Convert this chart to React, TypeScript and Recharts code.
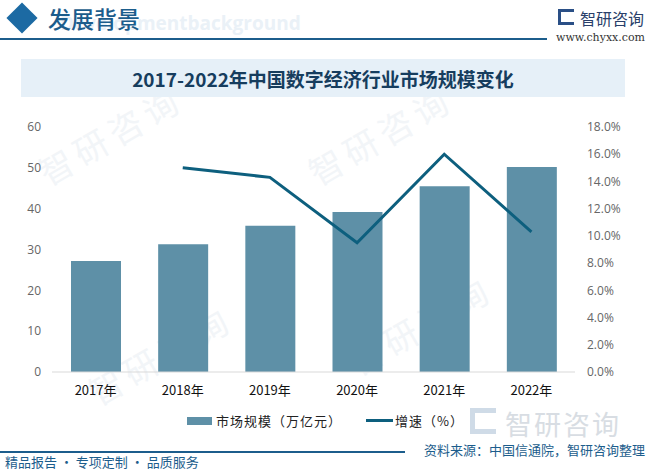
import React from "react";
import {
  ComposedChart,
  Bar,
  Line,
  XAxis,
  YAxis,
  Legend,
} from "recharts";

const YEARS = ["2017年", "2018年", "2019年", "2020年", "2021年", "2022年"];
const SCALE = [27.2, 31.3, 35.8, 39.2, 45.5, 50.2];
const GROWTH = [null, 15.0, 14.3, 9.5, 16.0, 10.3];
const LEFT_TICKS = [0, 10, 20, 30, 40, 50, 60];
const RIGHT_TICKS = [0, 2, 4, 6, 8, 10, 12, 14, 16, 18];

const BAR_COLOR = "#5e90a7";
const LINE_COLOR = "#0d5f7e";
const BLUE = "#1c5d8c";
const FONT = "'Noto Sans CJK SC', 'Open Sans', sans-serif";

const data = YEARS.map((year, i) => ({
  year,
  scale: SCALE[i],
  growth: GROWTH[i],
}));

const WATERMARKS = [
  { x: 30, y: 110 },
  { x: 300, y: 110 },
  { x: 80, y: 330 },
  { x: 340, y: 300 },
];

function LegendContent() {
  return (
    <div
      style={{
        display: "flex",
        justifyContent: "center",
        alignItems: "center",
        fontFamily: FONT,
        fontSize: 13,
        color: "#222",
        letterSpacing: 1,
      }}
    >
      <span
        style={{ width: 25, height: 8, background: BAR_COLOR, display: "inline-block", marginRight: 4 }}
      />
      <span>市场规模（万亿元）</span>
      <span
        style={{ width: 27, height: 3, background: LINE_COLOR, display: "inline-block", marginLeft: 24, marginRight: 2 }}
      />
      <span>增速（%）</span>
    </div>
  );
}

export default function App() {
  return (
    <div
      style={{
        position: "absolute",
        left: 0,
        top: 0,
        width: 651,
        height: 471,
        background: "#fff",
        overflow: "hidden",
        fontFamily: FONT,
      }}
    >
      {/* faint watermarks */}
      {WATERMARKS.map((w, i) => (
        <div
          key={i}
          style={{
            position: "absolute",
            left: w.x,
            top: w.y,
            transform: "rotate(-30deg)",
            fontSize: 34,
            color: "#f2f5f8",
            whiteSpace: "nowrap",
            letterSpacing: 6,
          }}
        >
          智研咨询
        </div>
      ))}

      {/* header */}
      <div
        style={{
          position: "absolute",
          left: 11,
          top: 7,
          width: 22,
          height: 22,
          background: "#1c6aa3",
          transform: "rotate(45deg)",
        }}
      />
      <div
        style={{
          position: "absolute",
          left: 60,
          top: 10,
          fontSize: 19,
          fontWeight: 700,
          color: "#eaf1f7",
          fontFamily: "'Open Sans', sans-serif",
        }}
      >
        Developmentbackground
      </div>
      <div
        style={{
          position: "absolute",
          left: 48,
          top: 1,
          fontSize: 23,
          color: "#1c5d8c",
          fontWeight: 500,
        }}
      >
        发展背景
      </div>
      <div
        style={{ position: "absolute", left: 0, top: 38, width: 547, height: 1.5, background: "#1c5d8c" }}
      />
      <div
        style={{
          position: "absolute",
          left: 558,
          top: 9,
          width: 16,
          height: 16,
          border: "3px solid #2a4f86",
          borderRight: "none",
          boxSizing: "border-box",
        }}
      />
      <div style={{ position: "absolute", left: 580, top: 6, fontSize: 16, color: "#2a3f6a" }}>
        智研咨询
      </div>
      <div
        style={{
          position: "absolute",
          left: 556,
          top: 31,
          fontSize: 11,
          color: "#333",
          fontFamily: "'DejaVu Serif', serif",
        }}
      >
        www.chyxx.com
      </div>

      {/* title box */}
      <div
        style={{
          position: "absolute",
          left: 21,
          top: 59,
          width: 604,
          height: 38,
          background: "#e6f0f8",
          display: "flex",
          alignItems: "center",
          justifyContent: "center",
          fontSize: 19,
          fontWeight: 700,
          color: "#163d5e",
        }}
      >
        2017-2022年中国数字经济行业市场规模变化
      </div>

      <div style={{ position: "absolute", left: 0, top: 0 }}>
        <ComposedChart
          width={651}
          height={471}
          data={data}
          margin={{ top: 127, right: 0, bottom: 50, left: 0 }}
        >
          <XAxis
            dataKey="year"
            tickLine={false}
            axisLine={{ stroke: "#d9d9d9" }}
            tick={{ fill: "#111", fontSize: 13, fontFamily: FONT }}
            tickMargin={8}
            height={30}
          />
          <YAxis
            yAxisId="left"
            domain={[0, 60]}
            ticks={LEFT_TICKS}
            width={52}
            tickLine={false}
            axisLine={false}
            tickMargin={5}
            tick={{ fill: "#666", fontSize: 12, fontFamily: "'Open Sans', sans-serif" }}
          />
          <YAxis
            yAxisId="right"
            orientation="right"
            domain={[0, 18]}
            ticks={RIGHT_TICKS}
            width={76}
            tickLine={false}
            axisLine={false}
            tickMargin={6}
            tickFormatter={(v) => `${v.toFixed(1)}%`}
            tick={{ fill: "#666", fontSize: 12, fontFamily: "'Open Sans', sans-serif", textAnchor: "start" }}
          />
          <Bar
            yAxisId="left"
            dataKey="scale"
            name="市场规模（万亿元）"
            fill={BAR_COLOR}
            barSize={50}
            isAnimationActive={false}
          />
          <Line
            yAxisId="right"
            dataKey="growth"
            name="增速（%）"
            stroke={LINE_COLOR}
            strokeWidth={3}
            dot={false}
            activeDot={false}
            isAnimationActive={false}
          />
          <Legend
            content={<LegendContent />}
            wrapperStyle={{ top: 411, left: 0, width: 651 }}
          />
        </ComposedChart>
      </div>

      {/* logo watermark near legend */}
      <div
        style={{
          position: "absolute",
          left: 505,
          top: 404,
          fontSize: 27,
          color: "#d8dde3",
          letterSpacing: 2,
        }}
      >
        智研咨询
      </div>
      <div
        style={{
          position: "absolute",
          left: 470,
          top: 408,
          width: 26,
          height: 26,
          border: "5px solid #cfdbe7",
          borderRight: "none",
          boxSizing: "border-box",
        }}
      />

      {/* footer */}
      <div
        style={{ position: "absolute", left: 0, top: 451, width: 405, height: 1.5, background: "#1c5d8c" }}
      />
      <div style={{ position: "absolute", left: 424, top: 442, fontSize: 13, lineHeight: "16px", color: BLUE }}>
        资料来源：中国信通院，智研咨询整理
      </div>
      <div style={{ position: "absolute", left: 5, top: 454, fontSize: 13, lineHeight: "16px", color: BLUE }}>
        精品报告 · 专项定制 · 品质服务
      </div>
    </div>
  );
}
